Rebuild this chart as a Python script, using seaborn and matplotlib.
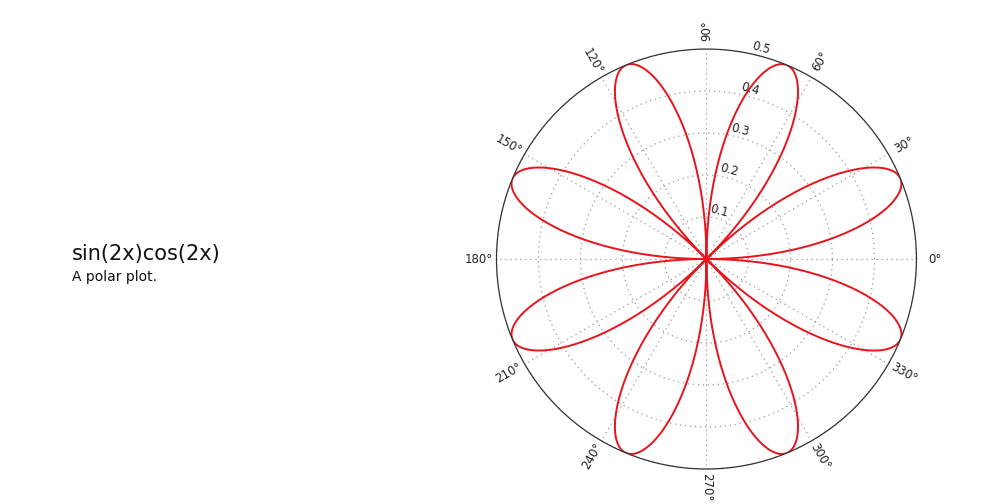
import matplotlib
matplotlib.use("Agg")
import matplotlib.pyplot as plt
import seaborn as sns
import numpy as np
import pandas as pd

# The curve the chart shows: r = sin(2x)cos(2x), over one full turn.
theta = np.linspace(0, 2 * np.pi, 1441)
radius = np.sin(2 * theta) * np.cos(2 * theta)

angle_ticks = [0, 30, 60, 90, 120, 150, 180, 210, 240, 270, 300, 330]
radial_ticks = [0.1, 0.2, 0.3, 0.4, 0.5]
radial_labels = ["0.1", "0.2", "0.3", "0.4", "0.5"]

title = "sin(2x)cos(2x)"
subtitle = "A polar plot."

sns.set_style("white")
plt.rcParams["font.family"] = ["DejaVu Sans"]

fig = plt.figure(figsize=(9.9, 5.04), dpi=100)
ax = fig.add_axes([0.5015, 0.0694, 0.4242, 0.8333], projection="polar")

# negative radii are drawn on the opposite side, which is the same as |r|
df = pd.DataFrame({"theta": theta, "r": np.abs(radius)})
sns.lineplot(data=df, x="theta", y="r", sort=False, color="#e8141c",
             linewidth=1.4, ax=ax, legend=False)

ax.set_rlim(0, 0.5)
ax.set_xlabel("")
ax.set_ylabel("")

# angular grid; labels drawn by hand so they can lie along the radius
ax.set_xticks(np.deg2rad(angle_ticks))
ax.set_xticklabels([])
for a in angle_ticks:
    rot = a if (a <= 90 or a >= 270) else a - 180
    if a == 270:
        rot = -90
    ax.text(np.deg2rad(a), 0.543, f"{a}°", rotation=rot, rotation_mode="anchor",
            ha="center", va="center", fontsize=8.5, color="#222222", clip_on=False)

# radial grid with labels along the 75 degree spoke
ax.set_yticks(radial_ticks)
ax.set_yticklabels([])
for r, lab in zip(radial_ticks, radial_labels):
    ax.text(np.deg2rad(75.5), r + 0.018, lab, rotation=-15, rotation_mode="anchor",
            ha="center", va="center", fontsize=8.5, color="#222222", clip_on=False)

ax.grid(True, color="#999999", linestyle=(0, (1, 3)), linewidth=0.9)
ax.spines["polar"].set_color("#333333")
ax.spines["polar"].set_linewidth(0.9)

fig.text(0.0727, 0.497, title, fontsize=15, ha="left", va="center", color="#111111")
fig.text(0.0727, 0.450, subtitle, fontsize=10, ha="left", va="center", color="#111111")

fig.savefig("out.png", dpi=100)
